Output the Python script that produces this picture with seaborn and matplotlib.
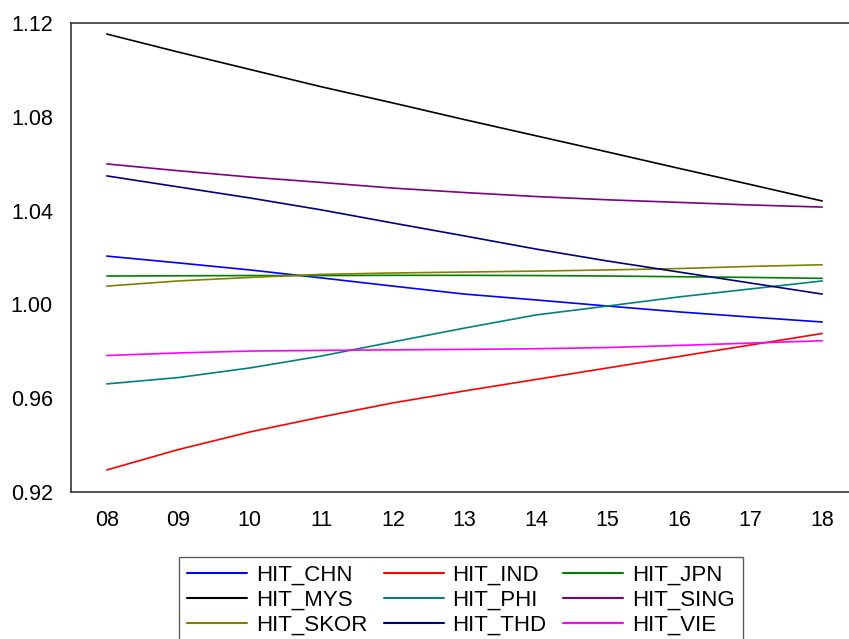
import pandas as pd
import numpy as np
import matplotlib
matplotlib.use("Agg")
import matplotlib.pyplot as plt
import seaborn as sns

# data (year 2008 .. 2018)
years = [8, 9, 10, 11, 12, 13, 14, 15, 16, 17, 18]
year_labels = ["08", "09", "10", "11", "12", "13", "14", "15", "16", "17", "18"]

hit_chn = [1.0206, 1.0177, 1.0147, 1.0113, 1.0078, 1.0044, 1.0019, 0.9993, 0.9968, 0.9946, 0.9925]
hit_ind = [0.9294, 0.9381, 0.9456, 0.9520, 0.9580, 0.9631, 0.9680, 0.9729, 0.9778, 0.9827, 0.9876]
hit_jpn = [1.0121, 1.0122, 1.0123, 1.0123, 1.0124, 1.0124, 1.0123, 1.0121, 1.0118, 1.0115, 1.0111]
hit_mys = [1.1153, 1.1076, 1.1002, 1.0928, 1.0859, 1.0788, 1.0719, 1.0650, 1.0580, 1.0511, 1.0441]
hit_phi = [0.9661, 0.9688, 0.9729, 0.9780, 0.9840, 0.9899, 0.9955, 0.9993, 1.0032, 1.0066, 1.0100]
hit_sing = [1.0599, 1.0570, 1.0543, 1.0520, 1.0496, 1.0477, 1.0460, 1.0446, 1.0435, 1.0424, 1.0415]
hit_skor = [1.0078, 1.0100, 1.0115, 1.0128, 1.0134, 1.0138, 1.0142, 1.0147, 1.0153, 1.0162, 1.0169]
hit_thd = [1.0548, 1.0501, 1.0454, 1.0403, 1.0347, 1.0292, 1.0236, 1.0185, 1.0138, 1.0091, 1.0044]
hit_vie = [0.9782, 0.9793, 0.9801, 0.9804, 0.9806, 0.9808, 0.9811, 0.9816, 0.9825, 0.9835, 0.9845]

series = {
    "HIT_CHN": hit_chn, "HIT_IND": hit_ind, "HIT_JPN": hit_jpn,
    "HIT_MYS": hit_mys, "HIT_PHI": hit_phi, "HIT_SING": hit_sing,
    "HIT_SKOR": hit_skor, "HIT_THD": hit_thd, "HIT_VIE": hit_vie,
}
colors = {
    "HIT_CHN": "#0000ff", "HIT_IND": "#ff0000", "HIT_JPN": "#008000",
    "HIT_MYS": "#000000", "HIT_PHI": "#008080", "HIT_SING": "#800080",
    "HIT_SKOR": "#808000", "HIT_THD": "#000080", "HIT_VIE": "#ff00ff",
}

rows = []
for name, vals in series.items():
    for yr, v in zip(years, vals):
        rows.append({"year": yr, "value": v, "series": name})
df = pd.DataFrame(rows)

sns.set_style("white")
plt.rcParams["font.family"] = ["Liberation Sans", "DejaVu Sans"]
plt.rcParams["text.color"] = "black"
plt.rcParams["xtick.color"] = "black"
plt.rcParams["ytick.color"] = "black"

fig = plt.figure(figsize=(8.49, 6.39), dpi=100)
ax = fig.add_axes([71 / 849, 147 / 639, 787 / 849, 469 / 639])

sns.lineplot(data=df, x="year", y="value", hue="series", palette=colors,
             hue_order=list(series.keys()), linewidth=1.2, ax=ax, legend=False)

ax.set_xlim(7.5, 18.5)
ax.set_ylim(0.92, 1.12)
ax.set_yticks([0.92, 0.96, 1.00, 1.04, 1.08, 1.12])
ax.set_yticklabels(["0.92", "0.96", "1.00", "1.04", "1.08", "1.12"])
ax.set_xticks(years)
ax.set_xticklabels(year_labels)
ax.set_xticks([y + 0.5 for y in [7] + years[:-1]], minor=True)
ax.tick_params(axis="x", which="major", length=0, pad=13, labelsize=15.5)
ax.tick_params(axis="x", which="minor", length=8, width=1, color="#333333", direction="out")
ax.tick_params(axis="y", length=8, width=1, color="#333333", direction="out", pad=5, labelsize=15.5)
ax.set_xlabel("")
ax.set_ylabel("")
for s in ax.spines.values():
    s.set_color("#333333")
    s.set_linewidth(1.2)

# legend filled row by row like the original (matplotlib fills by column)
names = list(series.keys())
order = [names[r * 3 + c] for c in range(3) for r in range(3)]
handles = [plt.Line2D([], [], color=colors[n], lw=1.5) for n in order]
leg = fig.legend(handles, order, ncol=3, loc="upper left",
                 bbox_to_anchor=(179 / 849, 82 / 639), frameon=True, fancybox=False,
                 edgecolor="#333333", fontsize=16, handlelength=2.7, handletextpad=0.4,
                 columnspacing=0.75, labelspacing=0.17, borderpad=0.35, borderaxespad=0)
leg.get_frame().set_linewidth(1.0)

fig.savefig("out.png", dpi=100)
